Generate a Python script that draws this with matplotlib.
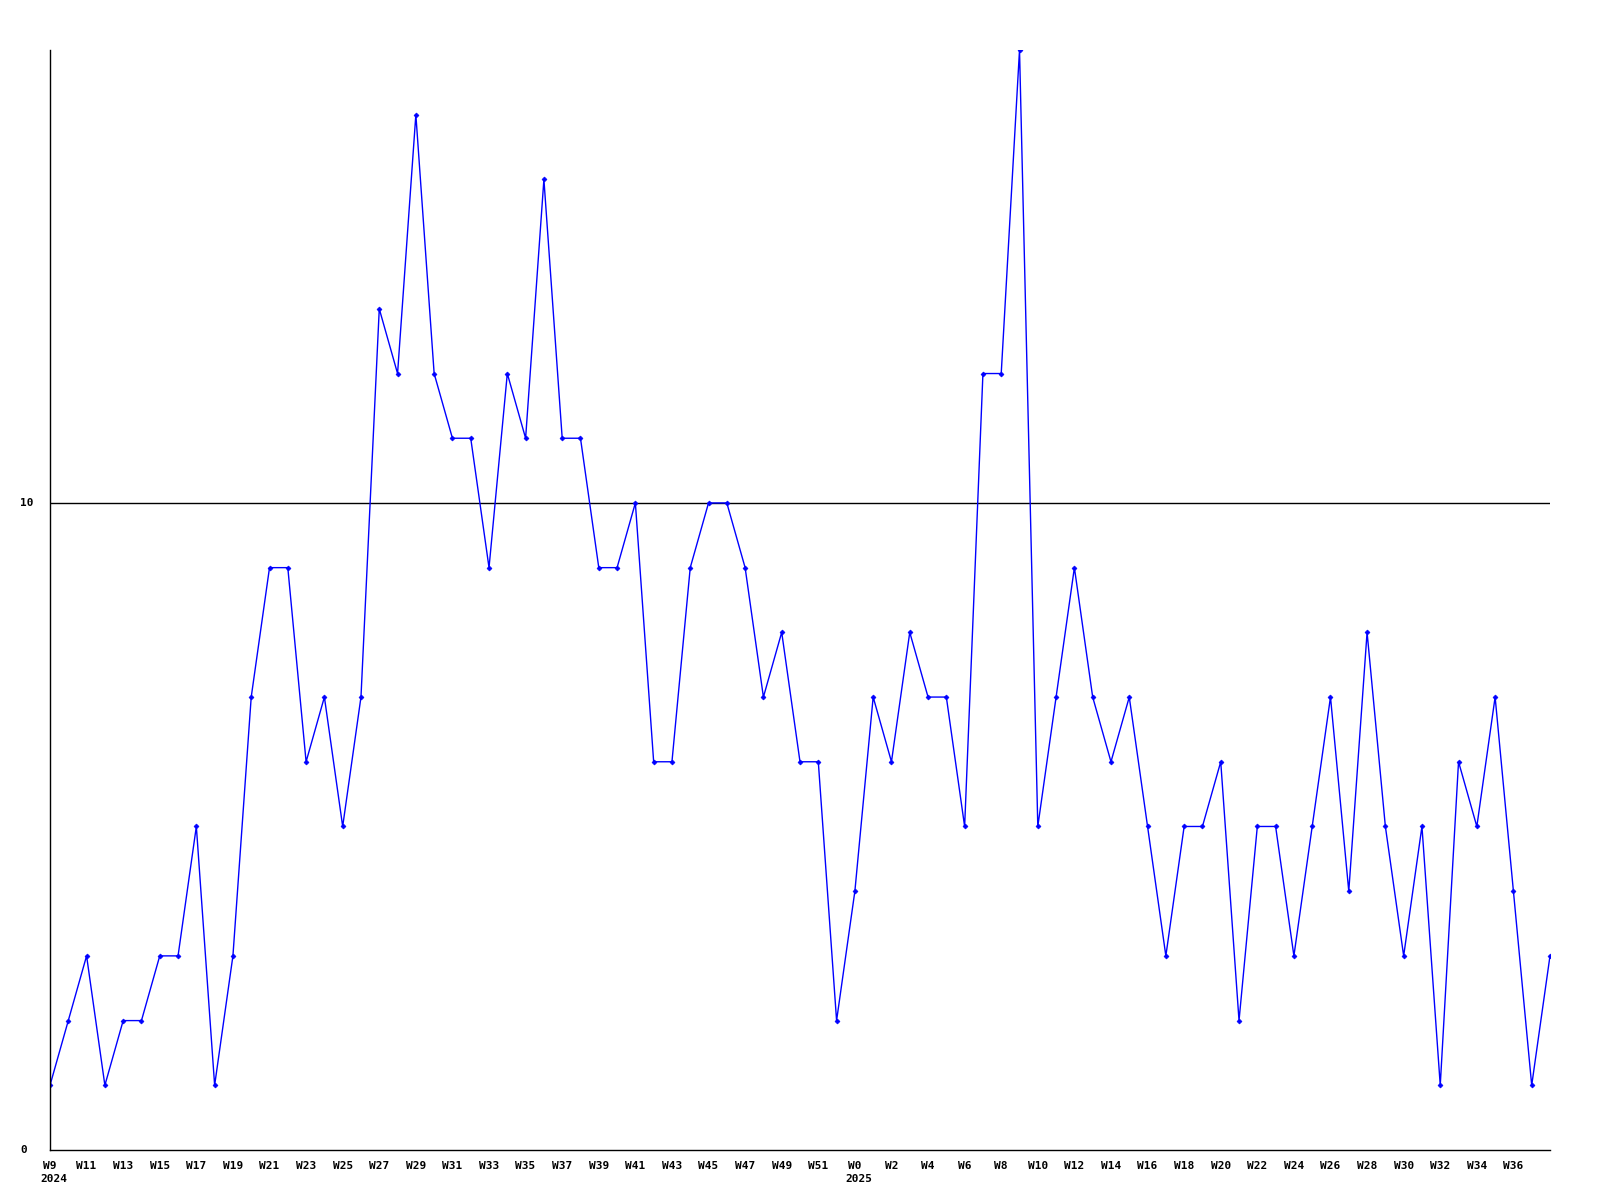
import matplotlib
matplotlib.use("Agg")
import matplotlib.pyplot as plt

weeks_2024 = [f"W{w}" for w in range(9, 53)]
weeks_2025 = [f"W{w}" for w in range(0, 39)]
week_labels = weeks_2024 + weeks_2025
year_labels = ["2024", "2025"]
year_starts = [0, len(weeks_2024)]

values = [1, 2, 3, 1, 2, 2, 3, 3, 5, 1,
          3, 7, 9, 9, 6, 7, 5, 7, 13, 12,
          16, 12, 11, 11, 9, 12, 11, 15, 11, 11,
          9, 9, 10, 6, 6, 9, 10, 10, 9, 7,
          8, 6, 6, 2, 4, 7, 6, 8, 7, 7,
          5, 12, 12, 17, 5, 7, 9, 7, 6, 7,
          5, 3, 5, 5, 6, 2, 5, 5, 3, 5,
          7, 4, 8, 5, 3, 5, 1, 6, 5, 7,
          4, 1, 3]

y_ticks = [0, 10]
y_max = 17

fig = plt.figure(figsize=(16, 12), dpi=100)
ax = fig.add_axes([50 / 1600, 50 / 1200, 1500 / 1600, 1100 / 1200])
x = list(range(len(values)))
ax.plot(x, values, color="#0000ff", linewidth=1.0, marker="D", markersize=2.5,
        markeredgewidth=0.5, markerfacecolor="#0000ff", markeredgecolor="#0000ff")
ax.set_xlim(0, len(values) - 1)
ax.set_ylim(0, y_max)

for s in ["top", "right"]:
    ax.spines[s].set_visible(False)
for s in ["left", "bottom"]:
    ax.spines[s].set_linewidth(1.0)
    ax.spines[s].set_color("black")

ax.axhline(10, color="black", linewidth=1.0, zorder=0)

font = dict(family="DejaVu Sans Mono", weight="bold", size=8)

ax.set_yticks([])
for v in y_ticks:
    ax.annotate(str(v), xy=(0, v), xycoords=("axes fraction", "data"),
                xytext=(-30, 0), textcoords="offset pixels",
                ha="left", va="center", **font)

tick_idx = list(range(0, len(values) - 1, 2))
ax.set_xticks(tick_idx)
ax.set_xticklabels([week_labels[i] for i in tick_idx], fontdict=font)
ax.tick_params(axis="x", length=0, pad=8)

for lab, i in zip(year_labels, year_starts):
    ax.annotate(lab, xy=(i, 0), xycoords=("data", "axes fraction"),
                xytext=(-10, -24), textcoords="offset pixels",
                ha="left", va="top", annotation_clip=False, **font)

fig.savefig("out.png", dpi=100)
